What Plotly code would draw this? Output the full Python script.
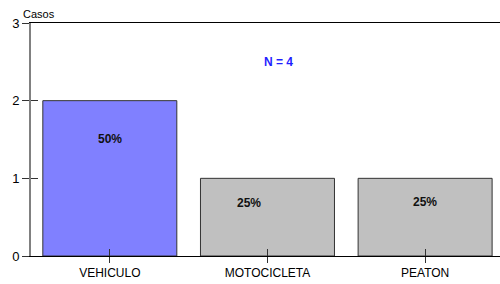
import plotly.graph_objects as go

categories = ["VEHICULO", "MOTOCICLETA", "PEATON"]
cases = [2, 1, 1]
percent_labels = ["50%", "25%", "25%"]
bar_colors = ["#8080ff", "#c0c0c0", "#c0c0c0"]
y_ticks = [0, 1, 2, 3]
total_label = "N = 4"

label_yshift = [-38, -25, -24]
label_xshift = [0, -18, 0]

fig = go.Figure()
fig.add_trace(go.Bar(
    x=categories, y=cases, width=0.85,
    marker=dict(color=bar_colors, line=dict(color="#333333", width=1)),
    hoverinfo="skip", showlegend=False,
))

for c, v, t, ys, xs in zip(categories, cases, percent_labels, label_yshift, label_xshift):
    fig.add_annotation(x=c, y=v, text="<b>" + t + "</b>", showarrow=False,
                       yshift=ys, xshift=xs, yanchor="middle",
                       font=dict(family="Liberation Sans Narrow, Arial Narrow, Liberation Sans", size=12, color="#111111"))

fig.add_annotation(x=0.527, y=0.87, xref="paper", yref="paper", text="<b>" + total_label + "</b>",
                   showarrow=False, font=dict(family="Liberation Sans Narrow, Arial Narrow, Liberation Sans", size=12, color="#1f1fff"))
fig.add_annotation(x=-0.022, y=1.0, xref="paper", yref="paper", text="Casos", showarrow=False,
                   xanchor="left", yanchor="bottom", yshift=1,
                   font=dict(family="Liberation Sans", size=11, color="#000000"))

fig.update_layout(
    width=500, height=284,
    margin=dict(l=31, r=0, t=23, b=28, autoexpand=False),
    paper_bgcolor="white", plot_bgcolor="white",
    font=dict(family="Liberation Sans, Arial", size=12, color="#000000"),
    bargap=0.15,
    xaxis=dict(type="category", categoryarray=categories, range=[-0.5, 2.475], automargin=False,
               showline=True, linecolor="#000000", linewidth=1, mirror=True,
               ticks="outside", ticklen=6, tickcolor="#333333", tickwidth=1,
               showgrid=False, zeroline=False, tickfont=dict(size=12)),
    yaxis=dict(range=[0, 3], tickvals=y_ticks, showline=True, linecolor="#808080", linewidth=2,
               automargin=False,
               ticks="outside", ticklen=7, tickcolor="#333333", tickwidth=1,
               showgrid=False, zeroline=False, tickfont=dict(size=13)),
    xaxis2=dict(type="category", categoryarray=categories, matches="x", overlaying="x", anchor="y",
                automargin=False,
                side="bottom", ticks="inside", ticklen=7, tickcolor="#333333", showticklabels=False,
                showline=False, showgrid=False, zeroline=False),
    yaxis2=dict(range=[0, 3], tickvals=y_ticks, overlaying="y", anchor="x", side="left",
                automargin=False,
                ticks="inside", ticklen=7, tickcolor="#333333", showticklabels=False,
                showline=False, showgrid=False, zeroline=False),
)
fig.add_trace(go.Scatter(x=categories, y=cases, xaxis="x2", yaxis="y2", mode="markers",
                         marker=dict(opacity=0), hoverinfo="skip", showlegend=False))

fig.write_html("out.html", config={"displayModeBar": False},
               post_script="document.body.style.margin='0';document.body.style.overflow='hidden';")
